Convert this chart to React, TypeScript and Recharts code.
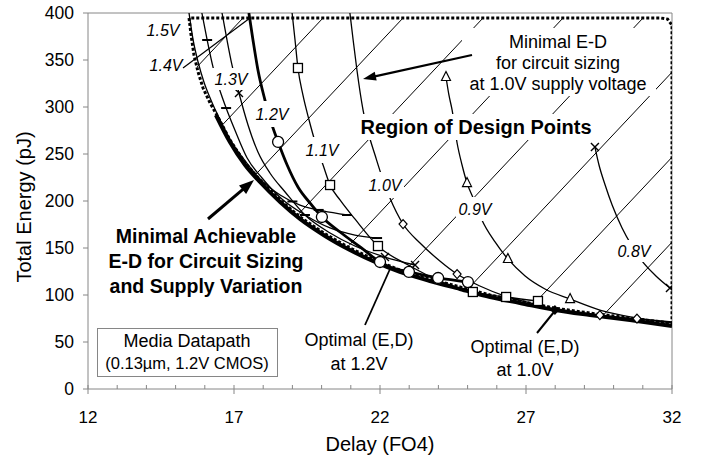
import React from 'react';
import { ComposedChart, Line, Area, Scatter, XAxis, YAxis, ReferenceLine } from 'recharts';

const FONT = "'Liberation Sans', Arial, Helvetica, sans-serif";
const AXIS = '#868686';

// axis ticks
const xTicks = [12, 13, 14, 15, 16, 17, 18, 19, 20, 21, 22, 23, 24, 25, 26, 27, 28, 29, 30, 31, 32];
const xMajor = [12, 17, 22, 27, 32];
const yTicks = [0, 50, 100, 150, 200, 250, 300, 350, 400];

// [delay FO4, energy pJ]
const envelope = [
  [16.38, 291.5], [16.86, 262.8], [17.38, 238.3], [17.89, 220.2], [18.58, 198.9], [19.26, 180.9],
  [20.12, 162.8], [20.97, 147.9], [21.83, 135.1], [22.68, 124.5], [23.71, 114.9], [24.74, 106.4],
  [25.77, 97.9], [26.79, 91.5], [27.99, 84.0], [29.19, 78.7], [30.56, 73.4], [32, 67.0],
];

// lower edge of the design-point region (dotted), top edge is regionTop
const regionLower = [
  [15.46, 394.7], [15.53, 376.6], [15.63, 355.3], [15.77, 337.2], [15.94, 320.2], [16.18, 304.3],
  [16.45, 289.4], [16.86, 265], [17.38, 240.5], [17.89, 222.5], [18.58, 201], [19.26, 183],
  [20.12, 165], [20.97, 150], [21.83, 137.2], [22.68, 126.6], [23.71, 117], [24.74, 108.5],
  [25.77, 100], [26.79, 93.5], [27.99, 86], [29.19, 80.8], [30.56, 75.5], [32, 70],
];
const regionTop = 394.7;
const regionRight = [[32, 387], [31.85, 393.5], [31.6, 394.7], [15.46, 394.7]];

const v15 = [
  [15.46, 400], [15.60, 371.3], [15.77, 347.9], [15.97, 326.6], [16.21, 307.4], [16.49, 288.3],
  [16.86, 266.0], [17.38, 242.6], [17.96, 221.3], [18.58, 206.4], [19.26, 195.7], [20.05, 189.4], [20.87, 185.1],
];
const v14 = [
  [15.90, 400], [16.08, 371.3], [16.28, 342.6], [16.49, 320.2], [16.73, 298.9], [17.03, 275.5],
  [17.45, 245.7], [17.96, 224.5], [18.64, 202.1], [19.43, 185.1], [20.29, 171.3], [21.14, 163.8], [21.90, 160.6],
];
const v13 = [
  [16.59, 400], [16.76, 371.3], [16.93, 344.7], [17.17, 314.9], [17.48, 280.9], [17.82, 252.1],
  [18.23, 229.8], [18.75, 209.6], [19.43, 185.1], [20.29, 166.0], [21.14, 152.1], [22.17, 140.4], [23.20, 131.9],
];
const v12 = [
  [17.51, 400], [17.65, 371.3], [17.82, 339.4], [18.06, 307.4], [18.27, 284.0], [18.51, 262.8],
  [18.82, 238.3], [19.19, 214.9], [19.60, 197.9], [20.01, 183.0], [20.63, 167.0], [21.32, 151.1],
  [22.00, 135.1], [22.34, 129.8], [22.99, 124.5], [23.99, 118.1], [25.01, 113.8],
];
const v11 = [
  [18.99, 400], [19.09, 371.3], [19.19, 341.5], [19.36, 312.8], [19.57, 286.2], [19.81, 259.6],
  [20.05, 238.3], [20.29, 217.0], [20.63, 201.1], [21.14, 180.9], [21.93, 152.1], [23.03, 130.9],
  [24.05, 114.9], [25.18, 103.2], [26.32, 97.9], [27.41, 93.6],
];
const v10 = [
  [20.97, 400], [21.08, 371.3], [21.21, 339.4], [21.42, 296.8], [21.62, 270.2], [21.83, 248.9],
  [22.07, 225.5], [22.34, 203.2], [22.79, 175.5], [23.37, 155.3], [24.05, 136.2], [24.64, 122.3],
  [25.42, 109.6], [26.28, 98.9], [27.14, 91.5], [27.99, 84.0], [29.02, 80.3], [30.22, 76.1],
  [31.25, 73.4], [32, 71.3],
];
const v09 = [
  [24.26, 331.9], [24.36, 312.8], [24.47, 296.8], [24.64, 261.7], [24.81, 238.3], [24.98, 219.1],
  [25.22, 201.1], [25.49, 179.8], [25.94, 156.4], [26.38, 138.3], [26.97, 120.2], [27.65, 106.4],
  [28.51, 95.7], [29.53, 84.0], [30.80, 75.5], [32, 70.2],
];
const v08 = [
  [29.36, 257.4], [29.50, 238.3], [29.71, 217.0], [29.95, 195.7], [30.29, 171.3], [30.63, 152.1],
  [30.97, 136.2], [31.45, 120.2], [31.93, 107.4],
];

// marker points
const m15 = [[19.0, 199.5], [19.9, 190.5], [20.87, 185.1]];
const m14 = [[16.08, 371.3], [16.73, 298.9], [19.43, 185.1], [21.90, 160.6]];
const m13 = [[17.17, 314.9], [22.17, 140.4], [23.20, 131.9]];
const m12 = [[18.51, 262.8], [20.01, 183.0], [22.00, 135.1], [22.99, 124.5], [23.99, 118.1], [25.01, 113.8]];
const m11 = [[19.19, 341.5], [20.29, 217.0], [21.93, 152.1], [25.18, 103.2], [26.32, 97.9], [27.41, 93.6]];
const m10 = [[22.79, 175.5], [24.64, 122.3], [29.53, 78.5], [30.80, 74.9]];
const m09 = [[24.26, 331.9], [24.98, 219.1], [26.38, 138.3], [28.51, 95.7]];
const m08 = [[29.36, 257.4], [31.93, 107.4]];
const optimum10 = [[27.99, 84.0]];

const pts = (a: number[][]) => a.map(([d, e]) => ({ d, e }));
const region = regionLower.map(([d, e]) => ({ d, band: [e, regionTop] }));
const dottedLoop = pts([...regionLower, ...regionRight]);

const circle = (p: any) => <circle cx={p.cx} cy={p.cy} r={5.5} fill="#fff" stroke="#000" strokeWidth={1.3} />;
const square = (p: any) => <rect x={p.cx - 4.5} y={p.cy - 4.5} width={9} height={9} fill="#fff" stroke="#000" strokeWidth={1.3} />;
const diamond = (p: any) => (
  <polygon points={`${p.cx},${p.cy - 4.5} ${p.cx + 4},${p.cy} ${p.cx},${p.cy + 4.5} ${p.cx - 4},${p.cy}`} fill="#fff" stroke="#000" strokeWidth={1.2} />
);
const solidDiamond = (p: any) => (
  <polygon points={`${p.cx},${p.cy - 5} ${p.cx + 4.5},${p.cy} ${p.cx},${p.cy + 5} ${p.cx - 4.5},${p.cy}`} fill="#000" />
);
const triangle = (p: any) => (
  <polygon points={`${p.cx},${p.cy - 5.5} ${p.cx + 4.5},${p.cy + 3.5} ${p.cx - 4.5},${p.cy + 3.5}`} fill="#fff" stroke="#000" strokeWidth={1.2} />
);
const cross = (p: any) => (
  <path d={`M${p.cx - 4},${p.cy - 4}L${p.cx + 4},${p.cy + 4}M${p.cx - 4},${p.cy + 4}L${p.cx + 4},${p.cy - 4}`} stroke="#000" strokeWidth={1.4} />
);
const dash = (p: any) => <path d={`M${p.cx - 5},${p.cy}L${p.cx + 5},${p.cy}`} stroke="#000" strokeWidth={2} />;

const XTick = (p: any) => {
  const { x, y, payload } = p;
  const major = xMajor.includes(payload.value);
  return (
    <g>
      <line x1={x} x2={x} y1={y - 4} y2={major ? y + 5 : y} stroke={AXIS} />
      {major && (
        <text x={x} y={y + 34} textAnchor="middle" fontSize={17} fontFamily={FONT} fill="#000">
          {payload.value}
        </text>
      )}
    </g>
  );
};

function Arrow({ x1, y1, x2, y2, w, hl, hw }: any) {
  const a = Math.atan2(y2 - y1, x2 - x1);
  const c = Math.cos(a), s = Math.sin(a);
  const bx = x2 - hl * c, by = y2 - hl * s;
  const poly = `${x2},${y2} ${bx - (hw / 2) * s},${by + (hw / 2) * c} ${bx + (hw / 2) * s},${by - (hw / 2) * c}`;
  return (
    <g>
      <line x1={x1} y1={y1} x2={bx + 2 * c} y2={by + 2 * s} stroke="#000" strokeWidth={w} />
      <polygon points={poly} fill="#000" />
    </g>
  );
}

function VLabel({ x, y, t, bg = true, pad = 5 }: any) {
  return (
    <g>
      {bg && <rect x={x - 19} y={y - 13 - pad} width={38} height={14 + 2 * pad} fill="#fff" />}
      <text x={x} y={y} textAnchor="middle" fontStyle="italic" fontSize={16} fontFamily={FONT} fill="#000">{t}</text>
    </g>
  );
}

export default function App() {
  const thin = { stroke: '#000', strokeWidth: 1.3, dot: false, type: 'monotone' as const, isAnimationActive: false, activeDot: false };
  return (
    <div style={{ position: 'relative', width: 706, height: 464, background: '#fff', fontFamily: FONT }}>
      <style>{'body{margin:0}'}</style>
      <ComposedChart width={706} height={464} margin={{ top: 13, right: 34, bottom: 0, left: 0 }}>
        <defs>
          <pattern id="hatch" patternUnits="userSpaceOnUse" x={3} y={18} width={80} height={85}>
            <line x1={-10} y1={95.6} x2={90} y2={-10.6} stroke="#000" strokeWidth={1} />
          </pattern>
        </defs>
        <XAxis
          type="number" dataKey="d" domain={[12, 32]} ticks={xTicks} interval={0} height={75}
          stroke={AXIS} tickLine={false} tickSize={0} tickMargin={0} tick={<XTick />} allowDataOverflow
        />
        <YAxis
          type="number" domain={[0, 400]} ticks={yTicks} interval={0} width={88} stroke={AXIS}
          tickSize={5} tickMargin={9} tick={{ fill: '#000', fontSize: 17.5, fontFamily: FONT }} allowDataOverflow
        />
        <ReferenceLine y={400} stroke={AXIS} />
        <ReferenceLine x={32} stroke={AXIS} />
        <Area data={region} dataKey="band" type="linear" stroke="none" fill="url(#hatch)" fillOpacity={1} isAnimationActive={false} />
        <Line data={dottedLoop} dataKey="e" type="linear" stroke="#000" strokeWidth={3} strokeDasharray="3 2" dot={false} activeDot={false} isAnimationActive={false} />
        <Line data={pts(v15)} dataKey="e" {...thin} />
        <Line data={pts(v14)} dataKey="e" {...thin} />
        <Line data={pts(v13)} dataKey="e" {...thin} />
        <Line data={pts(v11)} dataKey="e" {...thin} />
        <Line data={pts(v10)} dataKey="e" {...thin} />
        <Line data={pts(v09)} dataKey="e" {...thin} />
        <Line data={pts(v08)} dataKey="e" {...thin} />
        <Line data={pts(v12)} dataKey="e" {...thin} strokeWidth={2.8} />
        <Line data={pts(envelope)} dataKey="e" {...thin} strokeWidth={4} />
        <Scatter data={pts(m15)} dataKey="e" shape={dash} isAnimationActive={false} />
        <Scatter data={pts(m14)} dataKey="e" shape={dash} isAnimationActive={false} />
        <Scatter data={pts(m13)} dataKey="e" shape={cross} isAnimationActive={false} />
        <Scatter data={pts(m12)} dataKey="e" shape={circle} isAnimationActive={false} />
        <Scatter data={pts(m11)} dataKey="e" shape={square} isAnimationActive={false} />
        <Scatter data={pts(m10)} dataKey="e" shape={diamond} isAnimationActive={false} />
        <Scatter data={pts(m09)} dataKey="e" shape={triangle} isAnimationActive={false} />
        <Scatter data={pts(m08)} dataKey="e" shape={cross} isAnimationActive={false} />
        <Scatter data={pts(optimum10)} dataKey="e" shape={solidDiamond} isAnimationActive={false} />
      </ComposedChart>

      <svg width={706} height={464} style={{ position: 'absolute', left: 0, top: 0, pointerEvents: 'none' }} fontFamily={FONT}>
        {/* voltage labels */}
        <VLabel x={163} y={36} t="1.5V" bg={false} />
        <VLabel x={166} y={71} t="1.4V" bg={false} />
        <line x1={183} y1={68} x2={250} y2={18} stroke="#000" strokeWidth={1.2} />
        <VLabel x={231} y={85} t="1.3V" pad={4} />
        <VLabel x={272} y={120} t="1.2V" pad={6} />
        <VLabel x={322} y={156} t="1.1V" pad={6} />
        <VLabel x={385} y={191} t="1.0V" pad={6} />
        <VLabel x={475} y={215} t="0.9V" pad={5} />
        <VLabel x={634} y={257} t="0.8V" pad={4} />

        {/* region title */}
        <rect x={354} y={114} width={244} height={26} fill="#fff" />
        <text x={476} y={134} textAnchor="middle" fontSize={20} fontWeight="bold" fill="#000">Region of Design Points</text>

        {/* sizing at 1.0V note */}
        <rect x={462} y={28} width={194} height={68} fill="#fff" />
        <text textAnchor="middle" fontSize={18} fill="#000">
          <tspan x={558} y={48}>Minimal E-D</tspan>
          <tspan x={558} y={69}>for circuit sizing</tspan>
          <tspan x={558} y={90}>at 1.0V supply voltage</tspan>
        </text>
        <Arrow x1={472} y1={55} x2={363} y2={79} w={2.2} hl={13} hw={9} />

        {/* envelope note */}
        <text textAnchor="middle" fontSize={19.5} fontWeight="bold" fill="#000">
          <tspan x={206} y={243}>Minimal Achievable</tspan>
          <tspan x={206} y={268}>E-D for Circuit Sizing</tspan>
          <tspan x={206} y={293}>and Supply Variation</tspan>
        </text>
        <Arrow x1={208} y1={219} x2={254} y2={180} w={3} hl={15} hw={11} />

        {/* optimum notes */}
        <line x1={365} y1={325} x2={390} y2={269} stroke="#000" strokeWidth={1.8} />
        <text textAnchor="middle" fontSize={18} fill="#000">
          <tspan x={359} y={346}>Optimal (E,D)</tspan>
          <tspan x={359} y={370}>at 1.2V</tspan>
        </text>
        <line x1={537} y1={333} x2={554} y2={312} stroke="#000" strokeWidth={2} />
        <text textAnchor="middle" fontSize={18} fill="#000">
          <tspan x={525} y={353}>Optimal (E,D)</tspan>
          <tspan x={525} y={376}>at 1.0V</tspan>
        </text>

        {/* design box */}
        <rect x={97.5} y={328.5} width={180} height={48} fill="#fff" stroke={AXIS} strokeWidth={1} />
        <text x={187} y={347} textAnchor="middle" fontSize={18} fill="#000">Media Datapath</text>
        <text x={187} y={369} textAnchor="middle" fontSize={16.5} fill="#000">(0.13µm, 1.2V CMOS)</text>

        {/* axis titles */}
        <text x={380} y={451} textAnchor="middle" fontSize={20} fill="#000">Delay (FO4)</text>
        <text x={-207} y={31} transform="rotate(-90)" textAnchor="middle" fontSize={20} fill="#000">Total Energy (pJ)</text>
      </svg>
    </div>
  );
}
